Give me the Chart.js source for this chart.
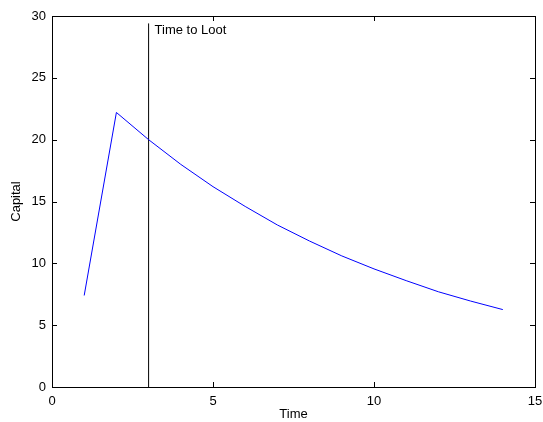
<!DOCTYPE html>
<html>
<head>
<meta charset="utf-8">
<script src="https://cdn.jsdelivr.net/npm/chart.js@4"></script>
<style>
html,body{margin:0;padding:0;background:#fff;}
#wrap{width:543px;height:422px;position:relative;}
</style>
</head>
<body>
<div id="wrap"><canvas id="c" width="543" height="422"></canvas></div>
<script>
const times = [1, 2, 3, 4, 5, 6, 7, 8, 9, 10, 11, 12, 13, 14];
const capital = [7.4, 22.2, 20.0, 18.0, 16.2, 14.6, 13.1, 11.8, 10.6, 9.55, 8.6, 7.7, 6.95, 6.26];
const lootTime = 3;
const lootLineRange = [0, 29.4];
const lootLabel = "Time to Loot";
const xTicks = [0, 5, 10, 15];
const yTicks = [0, 5, 10, 15, 20, 25, 30];

const FONT = "'Liberation Sans', Arial, Helvetica, sans-serif";
const FSIZE = 13;

const innerTicks = {
  id: 'innerTicks',
  afterDatasetsDraw(chart) {
    const ctx = chart.ctx, a = chart.chartArea;
    const xs = chart.scales.x, ys = chart.scales.y;
    ctx.save();
    ctx.strokeStyle = '#000';
    ctx.lineWidth = 1;
    ctx.beginPath();
    const L = 5;
    xTicks.forEach(v => {
      const px = Math.round(xs.getPixelForValue(v)) + 0.5;
      ctx.moveTo(px, a.bottom); ctx.lineTo(px, a.bottom - L);
      ctx.moveTo(px, a.top); ctx.lineTo(px, a.top + L);
    });
    yTicks.forEach(v => {
      const py = Math.round(ys.getPixelForValue(v)) + 0.5;
      ctx.moveTo(a.left, py); ctx.lineTo(a.left + L, py);
      ctx.moveTo(a.right, py); ctx.lineTo(a.right - L, py);
    });
    ctx.stroke();
    ctx.strokeRect(Math.round(a.left) + 0.5, Math.round(a.top) + 0.5, Math.round(a.right - a.left), Math.round(a.bottom - a.top));
    ctx.fillStyle = '#000';
    ctx.font = FSIZE + 'px ' + FONT;
    ctx.textBaseline = 'middle';
    ctx.textAlign = 'left';
    ctx.fillText(lootLabel, xs.getPixelForValue(lootTime) + 6, ys.getPixelForValue(lootLineRange[1]) + 7);
    ctx.restore();
  }
};

new Chart(document.getElementById('c'), {
  type: 'scatter',
  data: {
    datasets: [
      {
        data: times.map((t, i) => ({x: t, y: capital[i]})),
        showLine: true,
        borderColor: '#0000ff',
        borderWidth: 1,
        pointRadius: 0,
        tension: 0,
        fill: false
      },
      {
        data: lootLineRange.map(v => ({x: lootTime, y: v})),
        showLine: true,
        borderColor: '#000000',
        borderWidth: 1,
        pointRadius: 0,
        fill: false
      }
    ]
  },
  options: {
    responsive: false,
    animation: false,
    devicePixelRatio: 1,
    layout: {padding: {left: 0, top: 16, right: 8, bottom: 0}},
    plugins: {legend: {display: false}, tooltip: {enabled: false}},
    scales: {
      x: {
        type: 'linear', min: 0, max: 15,
        afterBuildTicks(s) { s.ticks = xTicks.map(v => ({value: v})); },
        afterFit(s) { s.height = 35; s.paddingLeft = 0; s.paddingRight = 0; },
        grid: {display: false, drawTicks: false},
        border: {display: false},
        ticks: {color: '#000', font: {family: FONT, size: FSIZE}, padding: 7, maxRotation: 0},
        title: {display: true, text: 'Time', color: '#000', font: {family: FONT, size: FSIZE}, padding: {top: 0, bottom: 0}}
      },
      y: {
        type: 'linear', min: 0, max: 30,
        afterBuildTicks(s) { s.ticks = yTicks.map(v => ({value: v})); },
        afterFit(s) { s.width = 52; s.paddingTop = 0; s.paddingBottom = 0; },
        grid: {display: false, drawTicks: false},
        border: {display: false},
        ticks: {color: '#000', font: {family: FONT, size: FSIZE}, padding: 6},
        title: {display: true, text: 'Capital', color: '#000', font: {family: FONT, size: FSIZE}, padding: {top: 9, bottom: 0}}
      }
    }
  },
  plugins: [innerTicks]
});
</script>
</body>
</html>
